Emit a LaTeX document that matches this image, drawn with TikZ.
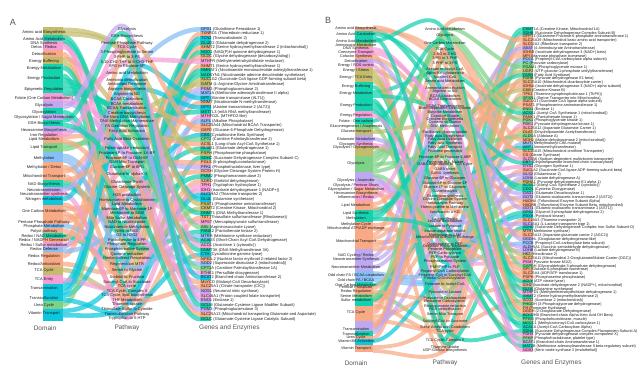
\documentclass[tikz,border=0pt]{standalone}
\usepackage{fontspec}
\setmainfont{Liberation Sans}
\definecolor{olv}{HTML}{C4BC6C}
\definecolor{tea}{HTML}{14D2AE}
\definecolor{pnk}{HTML}{F59ED8}
\definecolor{sal}{HTML}{F8AA86}
\definecolor{lav}{HTML}{BFA8F2}
\definecolor{lbl}{HTML}{86BEF6}
\definecolor{cyn}{HTML}{0CC8DE}
\definecolor{grn}{HTML}{7ED287}
\definecolor{labtxt}{HTML}{1E1E1E}
\definecolor{ttlgray}{HTML}{555555}
\tikzset{
 flow/.style={line width=\lw, draw opacity=.72},
 dlab/.style={font=\fontsize{\fs}{\fs}\selectfont, inner sep=0pt, text=labtxt},
 plab/.style={dlab, align=center},
 glab/.style={dlab, anchor=west},
 ttl/.style={font=\fontsize{6.5}{7}\selectfont, text=ttlgray, inner sep=0pt},
 letter/.style={font=\fontsize{9}{9}\selectfont, text=ttlgray, inner sep=0pt},
 graybox/.style={fill=gray!75, fill opacity=.85}
}
\def\DomA{{Amino acid Biosynthesis}/32/olv,{Amino Acid Metabolism}/39/tea,{DNA Synthesis}/43/pnk,{Detox / Redox}/47/pnk,{Detoxification}/54/sal,{Energy Buffering}/61/olv,{Energy Metabolism}/68/tea,{Energy Production}/78/tea,{Epigenetic Regulation}/89/tea,{Folate (One Carbon Metabolism)}/98/pnk,{Glycolysis}/105/lav,{Glycosylation}/112/tea,{Glycosylation / Sugar Metabolism}/117/lav,{GSH Biosynthesis}/123/tea,{Hexosamine Biosynthesis}/130/lav,{Iron Regulation}/135/pnk,{Lipid Metabolism}/139/sal,{Lipid Transport}/147/grn,{Methylation}/158/lbl,{Methylation / Detox}/167/sal,{Mitochondrial Transport}/176/sal,{NAD Biosynthesis}/184/tea,{Neurotransmission}/190/lav,{Neurotransmitter synthesis}/194/pnk,{Nitrogen metabolism}/199/cyn,{One Carbon Metabolism}/211/sal,{Pentose Phosphate Pathway}/222/sal,{Phosphate Metabolism}/226/lbl,{Polyol pathway}/231/sal,{Redox / NAD Metabolism}/236/tea,{Redox / NADPH Generation}/240/sal,{Redox / Sulfur metabolism}/245/pnk,{Redox Defense}/249/lbl,{Redox Regulation}/256/sal,{Redox/Antioxidant}/264/sal,{TCA Cycle}/270/olv,{TCA Entry}/280/pnk,{Transamination}/288/cyn,{Transsulfuration}/298/cyn,{Urea Cycle}/305/grn,{Vitamin Transport}/313/cyn}
\def\PathA{{Glycolysis}/29,{GSH Biosynthesis}/36,{Pentose Phosphate Pathway}/43,{TCA Cycle}/47,{3-Phosphoglycerate to Serine}/52,{3-PHP to 3-PS}/57,{5,10-CH2-THF to 5-CH3-THF}/62,{6PG to Ribulose-5P}/66,{Amino acid Metabolism}/73,{Ammonia detoxification}/80,{Antioxidant Response}/84,{Arginine biosynthesis}/89,{Arginine to NO}/94,{BCAA Catabolism}/99,{BCAA metabolism}/104,{BCAA Transamination}/108,{Creatine biosynthesis}/113,{De Novo DNA Methylation}/117,{DNA Methylation Maintenance}/121,{FA Oxidation Regulation}/126,{Fatty Acid Activation}/131,{Fatty Acid Beta Oxidation}/139,{Folate uptake (reduction)}/148,{Fructose-6P to Fructose-1,6-BP}/153,{Fructose-6P to GlcN-6P}/158,{GSH Mito Transport}/162,{Glucose-6P to 6PG}/167,{Glutamate to alpha-KG}/174,{Glutathione Synth}/182,{Glycine Cleavage System}/187,{H2S production}/195,{Homocysteine to Cystathionine}/200,{Lipid Metabolism}/204,{Mannose-6P to Mannose-1P}/209,{Methionine to SAM}/213,{Mito Sulfur Metabolism}/218,{NAD to Nicotinamide}/222,{Nicotinamide Methylation}/227,{NMN to NAD}/231,{O2 to H2O2}/235,{Pantothenate to 4'PP}/240,{Phosphate Regulation}/244,{Phosphocreatine System}/249,{Quinone reduction}/254,{Redox-Indirect Respiration}/258,{Regeneration MTR}/264,{Serine to Glycine}/270,{Sorbitol to Fructose}/277,{Succinyl-CoA to Succinate}/282,{TCA cycle}/286,{TCA Cycle, Complex II}/291,{TCA Cycle, lipid biosynthesis}/295,{THF Metabolism}/300,{Thiamine uptake}/304,{Thiosulfate Sulfur to Cyanide}/309,{Transsulfuration Pathway}/314,{Tryptophan to 5-HTP}/318}
\def\GenA{{GPX1}/{Glutathione Peroxidase 1}/33/11,{TXNRD1}/{Thioredoxin reductase 1}/35/45,{TCN2}/{Transcobalamin 2}/41/46,{GLUD2}/{Glutamate dehydrogenase 2}/2/28,{SHMT2}/{Serine hydroxymethyltransferase 2 (mitochondrial)}/26/47,{NQO1}/{NAD(P)H quinone dehydrogenase 1}/30/44,{GLDC}/{Glycine dehydrogenase (decarboxylating)}/26/30,{MTHFR}/{Methylenetetrahydrofolate reductase}/10/7,{SHMT1}/{Serine hydroxymethyltransferase 1}/26/53,{NMNAT1}/{Nicotinamide mononucleotide adenylyltransferase 1}/22/39,{NADSYN1}/{Nicotinamide adenine dinucleotide synthetase}/22/37,{SUCLG2}/{Succinate-CoA ligase GDP-forming subunit beta}/36/49,{GATM}/{L-Arginine:Glycine Amidinotransferase}/6/17,{PGM2}/{Phosphoglucomutase 2}/13/34,{MAT2A}/{Methionine adenosyltransferase II alpha}/19/35,{GPT}/{Alanine transaminase (ALT1)}/38/9,{NNMT}/{Nicotinamide N-methyltransferase}/20/38,{GPT2}/{Alanine transaminase 2 (ALT2)}/38/14,{METTL3}/{m6A RNA methyltransferase}/9/18,{MTHFD2L}/{MTHFD2-like}/3/53,{ALPL}/{Alkaline Phosphatase}/28/42,{SLC25A44}/{Mitochondrial BCAA Transporter}/21/15,{G6PD}/{Glucose-6-Phosphate Dehydrogenase}/31/3,{CBS}/{Cystathionine Beta Synthase}/39/32,{CPT2}/{Carnitine Palmitoyltransferase 2}/18/22,{ACSL1}/{Long-chain Acyl-CoA Synthetase 1}/17/21,{GLUD1}/{Glutamate dehydrogenase 1}/2/28,{PSPH}/{Phosphoserine phosphatase}/1/5,{SDHC}/{Succinate Dehydrogenase Complex Subunit C}/8/51,{PGLS}/{6-phosphogluconolactonase}/27/27,{PFKL}/{Phosphofructokinase, liver type}/11/24,{GCSH}/{Glycine Cleavage System Protein H}/26/30,{PMM2}/{Phosphomannomutase 2}/12/34,{SORD}/{Sorbitol dehydrogenase}/29/48,{TPH1}/{Tryptophan hydroxylase 1}/24/57,{IDH1}/{Isocitrate dehydrogenase 1 (NADP+)}/37/50,{SLC19A2}/{Thiamine transporter 2}/41/54,{GLUL}/{Glutamine synthetase}/25/10,{PSAT1}/{Phosphoserine aminotransferase}/1/6,{CKMT2}/{Creatine Kinase, Mitochondrial 2}/6/43,{DNMT1}/{DNA Methyltransferase 1}/9/19,{TST}/{Thiosulfate sulfurtransferase (Rhodanese)}/5/55,{MPST}/{Mercaptopyruvate sulfurtransferase}/32/31,{ASL}/{Argininosuccinate Lyase}/40/12,{PANK2}/{Pantothenate kinase 2}/7/41,{MTRR}/{Methionine synthase reductase}/19/46,{ACADS}/{Short-Chain Acyl-CoA Dehydrogenase}/8/22,{ACO1}/{Aconitase 1 (cytosolic)}/16/4,{DNMT3A}/{DNA Methyltransferase 3A}/9/18,{CTH}/{Cystathionine gamma-lyase}/39/56,{NFE2L2}/{Nuclear factor erythroid 2-related factor 2}/34/11,{SOD2}/{Superoxide dismutase 2 (mitochondrial)}/33/40,{CPT1A}/{Carnitine Palmitoyltransferase 1A}/18/20,{ETHE1}/{Persulfide dioxygenase}/4/36,{BCAT2}/{Branched-chain Aminotransferase 2}/38/16,{MLYCD}/{Malonyl-CoA Decarboxylase}/17/33,{SLC25A1}/{Citrate transporter (CIC)}/21/52,{NOS1}/{Neuronal nitric synthase}/23/13,{SLC46A1}/{Proton-coupled folate transporter}/10/23,{ENO1}/{Enolase 1}/11/1,{GCLM}/{Glutamate-Cysteine Ligase Modifier Subunit}/14/2,{PGM3}/{Phosphoglucomutase 3}/15/25,{SLC25A13}/{Mitochondrial transporting Glutamate and Aspartate}/21/26,{GCLC}/{Glutamate-Cysteine Ligase Catalytic Subunit}/14/29}
\def\DomB{{Amino acid Biosynthesis}/29/sal,{Amino Acid Catabolism}/34/tea,{Amino Acid Metabolism}/41/tea,{Aminosugar Metabolism}/46/olv,{DNA Synthesis}/49/pnk,{Coenzyme Transport}/53/pnk,{Cofactor Synthesis}/57/sal,{Detoxification}/61/lav,{Energy / ROS control}/66/pnk,{Energy / Stress}/71/olv,{Energy / TCA Entry}/78/olv,{Energy Buffering}/87/tea,{Energy Metabolism}/94/tea,{Energy Production}/106/tea,{Energy Regulation}/116/pnk,{Folate - One carbon}/121/tea,{Gluconeogenesis / Anaplerosis}/127/grn,{Glucose transport}/132/olv,{Glutamate Metabolism}/139/lav,{Glycogen Synthesis}/145/pnk,{Glycolysis / Glycogenolysis}/148/olv,{Glycolysis}/164/grn,{Glycolysis / Anaerobic}/181/lav,{Glycolysis / Pentose Shunt}/186/pnk,{Glycosylation / Sugar Metabolism}/190/sal,{Hexosamine Biosynthesis}/194/sal,{Inflammation / Redox}/197/pnk,{Lipid Metabolism}/206/sal,{Lipid Synthesis}/214/tea,{Methylation}/219/tea,{Methylation Cycle}/225/sal,{Mitochondrial ATP/ADP exchange}/229/sal,{Mitochondrial Transport}/242/sal,{NAD Cycling / Redox}/256/lav,{Neurotransmitter Synthesis}/260/lav,{Neurotransmitter Metabolism}/267/lav,{Odd chain FA / BCAA catabolism}/275/lbl,{Odd chain FA / BCAA}/280/lbl,{One Carbon Metabolism}/285/tea,{Pentose Phosphate}/288/sal,{Redox Regulation}/292/sal,{Serine Metabolism}/296/grn,{Sulfur metabolism}/300/tea,{TCA Cycle}/313/sal,{Transamination}/329/lav,{Transsulfuration}/334/tea,{Urea Cycle}/338/sal,{Vitamin B6 Activation}/341/cyn,{Vitamin Transport}/349/sal}
\def\PathB{{Amino Acid Metabolism}/29,{Glycolysis}/36,{One Carbon Metabolism}/43,{TCA Cycle}/50,{2-KG to 2-HG}/54,{3-PG to 3-PHP}/58,{3-PHP to 3-PS}/63,{Acetate to Acetyl-CoA}/70,{Alpha-Ketoglutarate to\\Succinyl-CoA}/75.5,{Amino acid Metabolism}/81,{Ammonia detoxification}/88,{Arginine to NO}/92,{BCAA catabolism}/96,{BCAA Degradation}/100,{BCAA Transamination}/106,{Biotin-dependent carboxylation}/109,{Butyrate Metabolism}/113,{Carnitine Shuttle}/116,{Creatine Biosynthesis}/120,{Cysteine to Taurine}/123,{DNA Methylation}/127,{Facilitative glucose uptake}/133,{Fatty Acid Biosynthesis}/137,{Fatty Acid Oxidation}/140,{Fatty acid Synthesis}/144,{Fatty Acid Transport}/148,{Fructose generation}/152,{Fructose-6P to Fructose-1,6BP}/157,{Fumarate to L-Malate}/162,{GABA degradation to TCA Cycle}/165,{GABA shunt}/169,{GABA Synthesis}/174,{Glucose-6P to Glycogen}/179,{Glucose-6P to Glucose-1P}/183,{Glucose-6P to Gluconate}/187,{Glutaminolysis}/192,{Glutathione synthesis}/197,{Glycine Cleavage System}/200,{Hexosamine Pathway}/204,{Homocysteine to Methionine}/208,{Isocitrate to a-KG}/212,{Lactate Shuttle}/219,{Leucine degradation}/222,{Lactate to Pyruvate}/227,{Malate-aspartate shuttle}/232,{Methionine to SAM}/235,{Mitochondrial ADP/ATP Exchange}/238,{Oxaloacetate to PEP}/244,{Oxidative Phosphorylation}/247,{Pentose Phosphate}/250,{PEP Carboxylation}/254,{PEP to Pyruvate}/258,{Phosphocreatine System}/262,{PNP/PMP to PLP}/267,{Propionyl-CoA Carboxylation}/272,{Propionyl-CoA to Succinyl-CoA}/276,{Protein O-GlcNAcylation}/279,{Pyruvate to Acetyl-CoA}/285,{Pyruvate to Lactate}/293,{Pyruvate to Oxaloacetate}/299,{Reductive Carboxylation}/302,{Ribonucleotide reduction}/306,{ROS detoxification}/309,{Serine Mito Transport}/315,{Succinyl-CoA to Succinate}/322,{Sulfur Amino acid Catabolism}/327,{TCA cycle}/332,{TCA Cycle, Complex II}/341,{Thiamine uptake}/348,{UDP-GlcNAc biosynthesis}/351}
\def\GenB{{CKMT1A}/{Creatine Kinase, Mitochondrial 1A}/12/53,{SDHB}/{Succinate Dehydrogenase Complex Subunit B}/14/68,{GFPT1}/{Glutamine-Fructose-6-phosphate aminotransferase 1}/26/39,{SLC25A29}/{Mitochondrial basic amino acid transporter}/33/1,{SLC52A2}/{Riboflavin transporter 2}/49/62,{ABAT}/{4-Aminobutyrate Aminotransferase}/36/30,{IDH3B}/{Isocitrate dehydrogenase 3 (NAD+) beta}/44/41,{MPI}/{Mannose phosphate isomerase}/25/70,{PCCA}/{Propionyl-CoA carboxylase alpha subunit}/37/55,{PC}/{Pyruvate carboxylase}/17/60,{PGAM1}/{Phosphoglycerate mutase 1}/22/2,{UGP2}/{UTP-glucose-1-phosphate uridylyltransferase}/21/34,{FASN}/{Fatty Acid Synthase}/29/25,{PDHB}/{Pyruvate dehydrogenase E1 beta}/11/58,{SLC25A10}/{Mitochondrial dicarboxylate carrier}/33/26,{IDH3A}/{Isocitrate dehydrogenase 3 (NAD+) alpha subunit}/44/35,{CKB}/{Creatine Kinase B}/10/19,{TPK1}/{Thiamine pyrophosphokinase 1 (ThPK)}/7/69,{SFXN1}/{Serine Transporter into Mitochondria}/42/64,{SUCLG1}/{Succinate-CoA ligase alpha subunit}/44/65,{PSAT1}/{Phosphoserine aminotransferase 1}/1/7,{ENO1}/{Enolase 1}/22/2,{ACSS1}/{Acetyl-CoA Synthetase 1 (mitochondrial)}/13/8,{PANK1}/{Pantothenate kinase 1}/7/18,{PGK1}/{Phosphoglycerate kinase 1}/22/2,{PDK1}/{Pyruvate dehydrogenase kinase 1}/9/63,{SLC25A12}/{Aspartate Glutamate Carrier 1}/33/45,{DLAT}/{Dihydrolipoamide Acetyltransferase}/11/58,{ALDOA}/{Aldolase A}/22/28,{MDH2}/{Malate dehydrogenase 2 (mitochondrial)}/44/4,{MUT}/{Methylmalonyl-CoA mutase}/38/56,{AMT}/{Aminomethyltransferase}/39/38,{SLC25A15}/{Mitochondrial ornithine Transporter}/47/11,{CS}/{Citrate Synthase}/44/4,{SLC5A6}/{Sodium-dependent multivitamin transporter}/6/16,{DBT}/{Dihydrolipoamide branched chain transacylase}/2/14,{GYS1}/{Glycogen Synthase 1}/20/33,{SUCLA2}/{Succinate-CoA ligase ADP-forming subunit beta}/44/57,{GLS2}/{Glutaminase 2}/19/36,{LDHA}/{Lactate dehydrogenase A}/23/59,{PDHA1}/{Pyruvate dehydrogenase E1 alpha 1}/11/58,{ACSS2}/{Acetyl-CoA Synthetase 2 (cytosolic)}/13/17,{CDO1}/{Cysteine Dioxygenase}/43/20,{GAD1}/{Glutamate Decarboxylase 1}/35/32,{GOT2}/{Glutamic-oxaloacetic transaminase 2 (AST2)}/45/45,{HADHA}/{Trifunctional Enzyme Subunit Alpha}/28/24,{HADHB}/{Trifunctional Enzyme Subunit Beta, mitochondrial}/28/50,{GOT1}/{Glutamic-oxaloacetic transaminase 1 (AST1)}/45/10,{GPD2}/{Glycerol-3-phosphate dehydrogenase 2}/14/49,{PDXK}/{Pyridoxal kinase}/48/54,{SLC19A3}/{Thiamine transporter 2}/49/69,{SLC16A1}/{L-Lactate transporter type 1}/23/42,{SDHD}/{Succinate Dehydrogenase Complex Iron Sulfur Subunit D}/14/68,{MTR}/{Methionine synthase}/31/40,{SLC25A13}/{Aspartate-glutamate carrier 2 (AGC2)}/33/37,{OGDHL}/{Oxoglutarate dehydrogenase-like}/34/9,{PCCB}/{Propionyl-CoA carboxylase beta subunit}/37/55,{ALDH5A1}/{Succinic semialdehyde dehydrogenase}/8/31,{LDHB}/{Lactate dehydrogenase B}/23/44,{HK2}/{Hexokinase 2}/18/22,{SLC25A11}/{Mitochondrial 2-Oxoglutarate/Malate Carrier (OGC)}/33/45,{PKM}/{Pyruvate kinase M1/2}/24/52,{GAPDH}/{Glyceraldehyde-3-phosphate dehydrogenase}/22/2,{GPI}/{Glucose-6-phosphate isomerase}/40/27,{SLC25A4}/{ADP/ATP translocase 1}/32/47,{PSPH}/{Phosphoserine phosphatase}/1/7,{ACLY}/{ATP citrate lyase}/29/23,{IDH2}/{Isocitrate dehydrogenase 2 (NADP+), mitochondrial}/41/61,{GLUL}/{Glutamine synthetase}/3/1,{MTHFD1}/{Methylenetetrahydrofolate dehydrogenase 1}/5/21,{SHMT2}/{Serine hydroxymethyltransferase 2}/16/3,{ACO2}/{Aconitase 2 (mitochondrial)}/44/67,{PHGDH}/{3-Phosphoglycerate dehydrogenase}/42/6,{FH}/{Fumarate Hydratase}/44/29,{OGDH}/{2-Oxoglutarate Dehydrogenase}/44/5,{BCKDHB}/{Branched-chain Alpha-Keto Acid DH Beta}/2/13,{PFKM}/{Phosphofructokinase, muscle}/22/28,{MCCC1}/{Methylcrotonoyl-CoA carboxylase 1}/2/43,{ACACA}/{Acetyl-CoA Carboxylase Alpha}/29/23,{SDHA}/{Succinate Dehydrogenase Complex Flavoprotein Subunit A}/14/66,{PDHX}/{Pyruvate dehydrogenase complex component X}/15/51,{PFKP}/{Phosphofructokinase, platelet type}/22/48,{BCAT1}/{Branched-chain Aminotransferase 1}/45/15,{MAT2B}/{Methionine adenosyltransferase II beta regulatory subunit}/30/46,{NOS3}/{Nitric oxide synthase 3 (endothelial)}/27/12}
\newcommand\DrawPanel[4]{%
 \foreach \dn/\dy/\dc [count=\kk] in #1 {%
  \expandafter\xdef\csname Dy\kk\endcsname{\dy}%
  \expandafter\xdef\csname Dc\kk\endcsname{\dc}%
  \expandafter\xdef\csname Dn\kk\endcsname{0}%
  \expandafter\xdef\csname Du\kk\endcsname{0}%
  \xdef\ND{\kk}}%
 \foreach \pn/\py [count=\kk] in #2 {%
  \expandafter\xdef\csname Py\kk\endcsname{\py}%
  \expandafter\xdef\csname Pn\kk\endcsname{0}%
  \expandafter\xdef\csname Pu\kk\endcsname{0}}%
 \foreach \gs/\gt/\gd/\gp in #3 {%
  \pgfmathtruncatemacro\tmp{\csname Dn\gd\endcsname+1}%
  \expandafter\xdef\csname Dn\gd\endcsname{\tmp}%
  \pgfmathtruncatemacro\tmp{\csname Pn\gp\endcsname+1}%
  \expandafter\xdef\csname Pn\gp\endcsname{\tmp}}%
 \foreach \gs/\gt/\gd/\gp [count=\ii] in #3 {%
  \pgfmathsetmacro\yd{\csname Dy\gd\endcsname+(\csname Du\gd\endcsname-(\csname Dn\gd\endcsname-1)/2)*\spr}%
  \pgfmathtruncatemacro\tmp{\csname Du\gd\endcsname+1}%
  \expandafter\xdef\csname Du\gd\endcsname{\tmp}%
  \pgfmathsetmacro\yp{\csname Py\gp\endcsname+(\csname Pu\gp\endcsname-(\csname Pn\gp\endcsname-1)/2)*\spr}%
  \pgfmathtruncatemacro\tmp{\csname Pu\gp\endcsname+1}%
  \expandafter\xdef\csname Pu\gp\endcsname{\tmp}%
  \pgfmathsetmacro\yg{\yZ+\stp*(\ii-1)}%
  \pgfmathsetmacro\mm{((\yg-\yp)/(\xG-\xP)+(\yp-\yd)/(\xP-\xDb))/2}%
  \pgfmathsetmacro\mm{max(-3,min(3,\mm))}%
  \pgfmathsetmacro\ya{\yp-\hh*\mm}%
  \pgfmathsetmacro\yb{\yp+\hh*\mm}%
  \edef\cc{\csname Dc\gd\endcsname}%
  \draw[flow,draw=\cc] (\xDb,\yd) .. controls (\xDb+25,\yd) and (\xP-\hh,\ya) .. (\xP,\yp) .. controls (\xP+\hh,\yb) and (\xG-25,\yg) .. (\xG,\yg);
 }%
 \pgfmathsetmacro\tmp{2*\yTop-\csname Dy1\endcsname}%
 \expandafter\xdef\csname Dy0\endcsname{\tmp}%
 \pgfmathtruncatemacro\NDp{\ND+1}%
 \pgfmathsetmacro\tmp{2*\yBot-\csname Dy\ND\endcsname}%
 \expandafter\xdef\csname Dy\NDp\endcsname{\tmp}%
 \foreach \kk in {1,...,\ND} {%
  \pgfmathtruncatemacro\km{\kk-1}\pgfmathtruncatemacro\kp{\kk+1}%
  \pgfmathsetmacro\ta{(\csname Dy\km\endcsname+\csname Dy\kk\endcsname)/2}%
  \pgfmathsetmacro\tbb{(\csname Dy\kp\endcsname+\csname Dy\kk\endcsname)/2}%
  \edef\cc{\csname Dc\kk\endcsname}%
  \fill[fill=\cc] (\xDa,\ta) rectangle (\xDb,\tbb);
 }%
 \foreach \gs/\gt/\gd/\gp [count=\ii] in #3 {%
  \pgfmathsetmacro\yg{\yZ+\stp*(\ii-1)}%
  \edef\cc{\csname Dc\gd\endcsname}%
  \fill[fill=\cc] (\xG,\yg-\stp/2) rectangle (\xGb,\yg+\stp/2);
 }%
 \foreach \dn/\dy/\dc [count=\kk] in #1 {\node[dlab] (#4d\kk) at (\xDL,\dy) {\dn};}%
 \foreach \pn/\py [count=\kk] in #2 {\node[plab] (#4p\kk) at (\xP,\py) {\pn};}%
 \foreach \gs/\gt/\gd/\gp [count=\ii] in #3 {%
  \pgfmathsetmacro\yg{\yZ+\stp*(\ii-1)}%
  \node[glab] (#4g\ii) at (\xGL,\yg) {\gs\ (\gt)};
 }%
}
\begin{document}
\begin{tikzpicture}[x=1pt,y=-1pt]
\useasboundingbox[fill=white] (0,0) rectangle (641,371);
% ---------- Panel A ----------
\def\xDa{43}\def\xDb{63}\def\xDL{44}\def\xP{127}\def\xG{200}\def\xGb{211}\def\xGL{201}
\def\yZ{29.3}\def\stp{4.6}\def\spr{4.4}\def\lw{4.6pt}\def\hh{18}\def\fs{4}\def\yTop{27}\def\yBot{321.5}
\fill[graybox] (123,135) rectangle (131,147);
\DrawPanel{\DomA}{\PathA}{\GenA}{A}
\node[letter] (Alet) at (13,22) {A};
\node[ttl] (Atd) at (45,328) {Domain};
\node[ttl] (Atp) at (127,328) {Pathway};
\node[ttl,anchor=west] (Atg) at (199,328) {Genes and Enzymes};
% ---------- Panel B ----------
\def\xDa{355}\def\xDb{373}\def\xDL{356}\def\xP{445}\def\xG{522}\def\xGb{533}\def\xGL{523}
\def\yZ{29.3}\def\stp{3.82}\def\spr{3.7}\def\lw{3.9pt}\def\hh{18}\def\fs{3.8}\def\yTop{27.4}\def\yBot{352}
\fill[graybox] (440,48) rectangle (450,57);
\DrawPanel{\DomB}{\PathB}{\GenB}{B}
\node[letter] (Blet) at (328,20) {B};
\node[ttl] (Btd) at (356,363) {Domain};
\node[ttl] (Btp) at (445,363) {Pathway};
\node[ttl,anchor=west] (Btg) at (521,363) {Genes and Enzymes};
\end{tikzpicture}
\end{document}
